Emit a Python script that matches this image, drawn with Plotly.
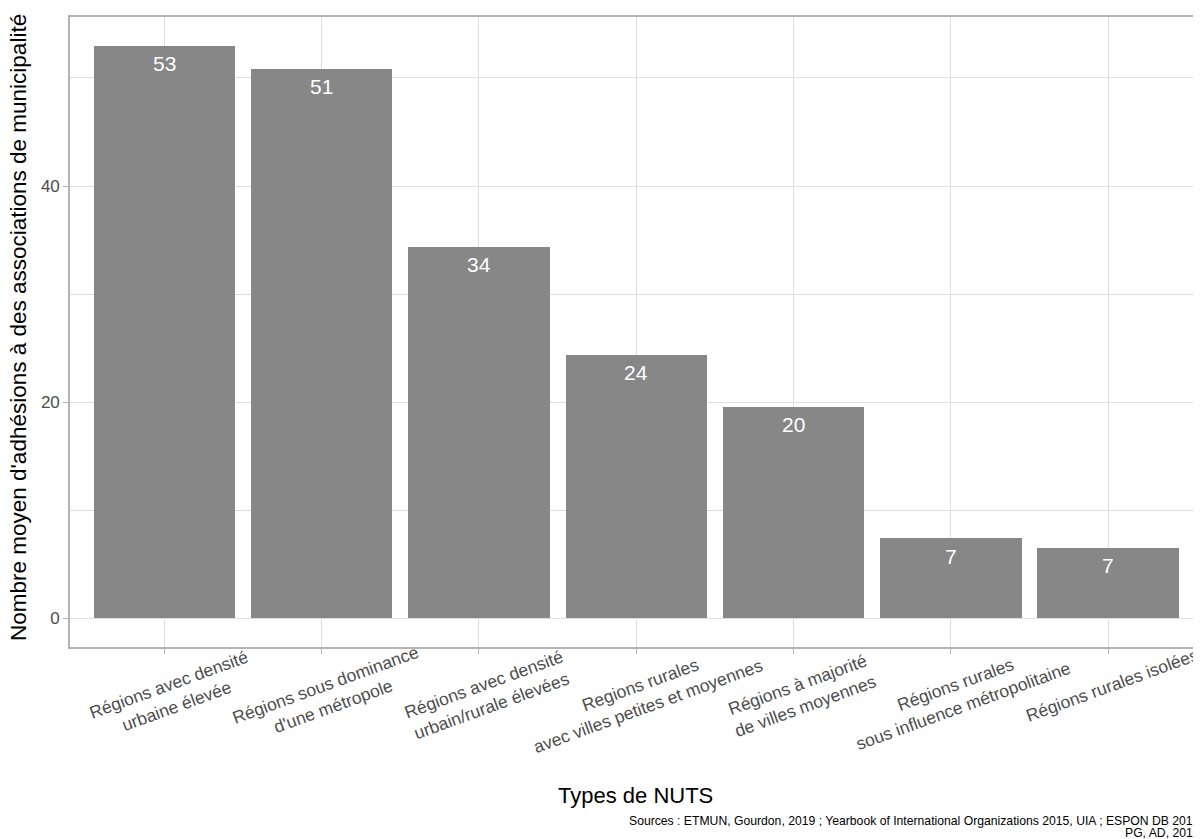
import math
import plotly.graph_objects as go

categories = [
    "Régions avec densité<br>urbaine élevée",
    "Régions sous dominance<br>d'une métropole",
    "Régions avec densité<br>urbain/rurale élevées",
    "Regions rurales<br>avec villes petites et moyennes",
    "Régions à majorité<br>de villes moyennes",
    "Régions rurales<br>sous influence métropolitaine",
    "Régions rurales isolées",
]
values = [52.99, 50.86, 34.38, 24.38, 19.57, 7.43, 6.55]
y_ticks = [0, 20, 40]

x_title = "Types de NUTS"
y_title = "Nombre moyen d'adhésions à des associations de municipalité"
caption_lines = [
    "Sources : ETMUN, Gourdon, 2019 ; Yearbook of International Organizations 2015, UIA ; ESPON DB 2013",
    "PG, AD, 2019",
]

FONT = "Liberation Sans, Arial, Helvetica, sans-serif"
BAR = "#878787"
GRID = "#DEDEDE"
BORDER = "#B3B3B3"
TICKTXT = "#4D4D4D"
TICK_FS = 17.5
ANGLE = 20

xs = list(range(len(categories)))
ymax = max(values)
y_lo, y_hi = -0.05 * ymax, 1.05 * ymax

fig = go.Figure()
fig.add_trace(go.Bar(x=xs, y=values, width=0.9, marker=dict(color=BAR, line=dict(width=0)),
                     hoverinfo="skip"))

annotations = []
# value labels
for x, v in zip(xs, values):
    annotations.append(dict(x=x, y=v, xref="x", yref="y", text=str(int(round(v + 1e-9))),
                            showarrow=False, yanchor="middle", xanchor="center", yshift=-18,
                            font=dict(family=FONT, size=21, color="white")))
# category tick labels, rotated about the top-centre of the text block (ggplot-like)
th = math.radians(ANGLE)
for x, c in zip(xs, categories):
    n_lines = c.count("<br>") + 1
    half_h = (n_lines * 1.3 * TICK_FS + 2) / 2
    annotations.append(dict(x=x, y=y_lo, xref="x", yref="y", text=c, showarrow=False,
                            textangle=-ANGLE, xanchor="center", yanchor="middle",
                            xshift=half_h * math.sin(th),
                            yshift=-(26 + half_h * math.cos(th)),
                            align="center", font=dict(family=FONT, size=TICK_FS, color=TICKTXT)))
# axis titles
annotations.append(dict(x=0.5, y=0, xref="paper", yref="paper", text=x_title, showarrow=False,
                        xanchor="center", yanchor="middle", yshift=-148,
                        font=dict(family=FONT, size=22, color="black")))
annotations.append(dict(x=0, y=0.5, xref="paper", yref="paper", text=y_title, showarrow=False,
                        textangle=-90, xanchor="center", yanchor="middle", xshift=-52, yshift=4,
                        font=dict(family=FONT, size=22.5, color="black")))
# caption (two right-aligned lines)
for i, line in enumerate(caption_lines):
    annotations.append(dict(x=1, y=0, xref="paper", yref="paper", text=line, showarrow=False,
                            xanchor="right", yanchor="middle", xshift=1, yshift=-174 - 12 * i,
                            font=dict(family=FONT, size=12.2, color="black")))

# page body has an 8px margin: size/margins compensate so the panel lands at x 70..1201, y 17..647
fig.update_layout(
    width=1193, height=831,
    margin=dict(l=62, r=0, t=9, b=192),
    paper_bgcolor="white", plot_bgcolor="white",
    showlegend=False,
    annotations=annotations,
    font=dict(family=FONT),
    bargap=0,
)
fig.update_xaxes(
    range=[-0.6, -0.6 + (1201 - 70) / 157.3],
    tickvals=xs, ticktext=[""] * len(xs),
    showgrid=True, gridcolor=GRID, gridwidth=1,
    ticks="outside", ticklen=5, tickcolor=BORDER, tickwidth=1,
    showline=True, linecolor=BORDER, linewidth=1.6, mirror=True,
    zeroline=False, fixedrange=True,
)
fig.update_yaxes(
    range=[y_lo, y_hi],
    tickvals=y_ticks,
    showgrid=True, gridcolor=GRID, gridwidth=1,
    minor=dict(dtick=10, tick0=0, showgrid=True, gridcolor=GRID, gridwidth=0.5, ticks=""),
    ticks="outside", ticklen=5, tickcolor=BORDER, tickwidth=1,
    tickfont=dict(family=FONT, size=17, color=TICKTXT),
    showline=True, linecolor=BORDER, linewidth=1.6, mirror=False,
    zeroline=False, fixedrange=True,
)

fig.write_html("out.html")
